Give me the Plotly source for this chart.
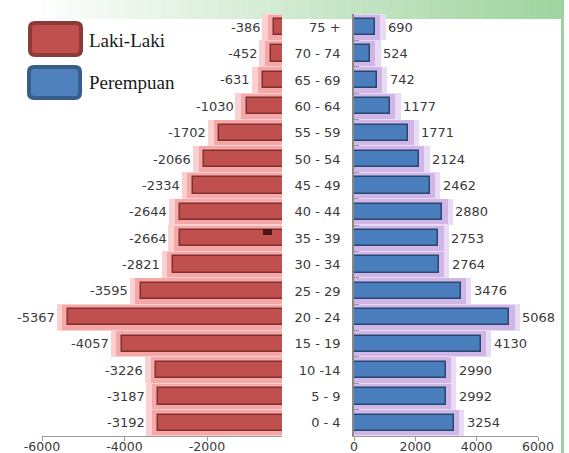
import plotly.graph_objects as go

W, H = 569, 453

age_groups = ["0 - 4", "5 - 9", "10 -14", "15 - 19", "20 - 24", "25 - 29", "30 - 34",
              "35 - 39", "40 - 44", "45 - 49", "50 - 54", "55 - 59", "60 - 64",
              "65 - 69", "70 - 74", "75 +"]
laki_laki = [-3192, -3187, -3226, -4057, -5367, -3595, -2821, -2664, -2644, -2334,
             -2066, -1702, -1030, -631, -452, -386]
perempuan = [3254, 2992, 2990, 4130, 5068, 3476, 2764, 2753, 2880, 2462, 2124,
             1771, 1177, 742, 524, 690]
series_names = ["Laki-Laki", "Perempuan"]
left_ticks = [-6000, -4000, -2000]
right_ticks = [0, 2000, 4000, 6000]


def px(x):
    return x / W


def py(y):
    return 1 - y / H


fig = go.Figure()

# glow layers (left)
fig.add_trace(go.Bar(y=age_groups, x=[v - 280 for v in laki_laki], orientation="h",
                     width=1.0, marker=dict(color="#fbd0d0", line=dict(width=0)),
                     xaxis="x", yaxis="y", showlegend=False, hoverinfo="skip"))
fig.add_trace(go.Bar(y=age_groups, x=[v - 140 for v in laki_laki], orientation="h",
                     width=0.96, marker=dict(color="#f6a8a8", line=dict(width=0)),
                     xaxis="x", yaxis="y", showlegend=False, hoverinfo="skip"))
fig.add_trace(go.Bar(y=age_groups, x=laki_laki, orientation="h", width=0.62,
                     name=series_names[0],
                     marker=dict(color="#c0504d", line=dict(color="#7f2f2d", width=1.5)),
                     xaxis="x", yaxis="y", showlegend=False))

# glow layers (right)
fig.add_trace(go.Bar(y=age_groups, x=[v + 340 for v in perempuan], orientation="h",
                     width=1.0, marker=dict(color="#e8dbf3", line=dict(width=0)),
                     xaxis="x2", yaxis="y2", showlegend=False, hoverinfo="skip"))
fig.add_trace(go.Bar(y=age_groups, x=[v + 170 for v in perempuan], orientation="h",
                     width=0.96, marker=dict(color="#d0b5e7", line=dict(width=0)),
                     xaxis="x2", yaxis="y2", showlegend=False, hoverinfo="skip"))
fig.add_trace(go.Bar(y=age_groups, x=perempuan, orientation="h", width=0.62,
                     name=series_names[1],
                     marker=dict(color="#4a7dbb", line=dict(color="#27476f", width=1.5)),
                     xaxis="x2", yaxis="y2", showlegend=False))

tick_font = dict(family="DejaVu Sans", size=13, color="#3a3a3a")
xtick_font = dict(family="DejaVu Sans", size=12.5, color="#3a3a3a")

annotations = []
for g, v in zip(age_groups, laki_laki):
    annotations.append(dict(x=v, y=g, xref="x", yref="y", text=str(v), showarrow=False,
                            xanchor="right", xshift=-11, font=tick_font))
for g, v in zip(age_groups, perempuan):
    annotations.append(dict(x=v, y=g, xref="x2", yref="y2", text=str(v), showarrow=False,
                            xanchor="left", xshift=11, font=tick_font))

# legend text
annotations.append(dict(x=px(87), y=py(40), xref="paper", yref="paper", text=series_names[0],
                        showarrow=False, xanchor="left", yanchor="middle",
                        font=dict(family="Liberation Serif", size=19, color="#1a1a1a")))
annotations.append(dict(x=px(87), y=py(82), xref="paper", yref="paper", text=series_names[1],
                        showarrow=False, xanchor="left", yanchor="middle",
                        font=dict(family="Liberation Serif", size=19, color="#1a1a1a")))

shapes = []
# green top band gradient
n = 40
x0, x1 = 30, 562
for i in range(n):
    t = i / (n - 1)
    r = int(255 + (160 - 255) * t)
    gg = int(255 + (212 - 255) * t)
    b = int(255 + (160 - 255) * t)
    shapes.append(dict(type="rect", xref="paper", yref="paper",
                       x0=px(x0 + (x1 - x0) * i / n), x1=px(x0 + (x1 - x0) * (i + 1) / n + 0.5),
                       y0=py(19), y1=py(0), fillcolor=f"rgb({r},{gg},{b})",
                       line=dict(width=0), layer="below"))
# right green border line
shapes.append(dict(type="rect", xref="paper", yref="paper", x0=px(561), x1=px(564),
                   y0=py(H), y1=py(0), fillcolor="#9fd09f", line=dict(width=0)))


def rounded(xa, ya, xb, yb, r):
    pts = (f"M {px(xa + r)},{py(ya)} L {px(xb - r)},{py(ya)} "
           f"Q {px(xb)},{py(ya)} {px(xb)},{py(ya + r)} "
           f"L {px(xb)},{py(yb - r)} Q {px(xb)},{py(yb)} {px(xb - r)},{py(yb)} "
           f"L {px(xa + r)},{py(yb)} Q {px(xa)},{py(yb)} {px(xa)},{py(yb - r)} "
           f"L {px(xa)},{py(ya + r)} Q {px(xa)},{py(ya)} {px(xa + r)},{py(ya)} Z")
    return pts


shapes.append(dict(type="path", xref="paper", yref="paper", path=rounded(30, 23, 81, 55, 5),
                   fillcolor="#c0504d", line=dict(color="#8c3a38", width=4)))
shapes.append(dict(type="path", xref="paper", yref="paper", path=rounded(29, 67, 80, 98, 5),
                   fillcolor="#4f81bd", line=dict(color="#385d8a", width=4)))
# small dark artifact square
shapes.append(dict(type="rect", xref="paper", yref="paper", x0=px(263), x1=px(272),
                   y0=py(235), y1=py(229), fillcolor="#4a1414", line=dict(width=0)))

ydom = [17 / H, 439 / H]

fig.update_layout(
    width=W, height=H,
    margin=dict(l=0, r=0, t=0, b=0, pad=0, autoexpand=False),
    paper_bgcolor="white", plot_bgcolor="rgba(0,0,0,0)",
    barmode="overlay", bargap=0,
    showlegend=False,
    annotations=annotations,
    shapes=shapes,
    xaxis=dict(domain=[px(42), px(282)], range=[-6000, -182], tickvals=left_ticks,
               ticktext=[str(v) for v in left_ticks],
               ticks="outside", ticklen=4, tickcolor="#999999", showline=True,
               linecolor="#999999", linewidth=1, showgrid=False, zeroline=False,
               tickfont=xtick_font, anchor="y", automargin=False, ticklabelstandoff=-5),
    yaxis=dict(domain=ydom, categoryorder="array", categoryarray=age_groups,
               showticklabels=False, showline=False, showgrid=False, ticks="",
               anchor="x", range=[-0.5, 15.5], automargin=False),
    xaxis2=dict(domain=[px(354), px(538)], range=[0, 6000], tickvals=right_ticks,
                ticktext=[str(v) for v in right_ticks],
                ticks="outside", ticklen=4, tickcolor="#999999", showline=True,
                linecolor="#999999", linewidth=1, showgrid=False, zeroline=False,
                tickfont=xtick_font, anchor="y2", automargin=False, ticklabelstandoff=-5),
    yaxis2=dict(domain=ydom, categoryorder="array", categoryarray=age_groups,
                showline=True, linecolor="#888888", linewidth=1.5, ticks="inside",
                tickson="boundaries", ticklen=5, tickcolor="#999999", showgrid=False,
                tickfont=tick_font, anchor="x2", side="left", ticklabelstandoff=9,
                range=[-0.5, 15.5], automargin=False),
)

fig.write_html("out.html", config={"displayModeBar": False},
               post_script="document.body.style.margin='0';document.body.style.overflow='hidden';")
